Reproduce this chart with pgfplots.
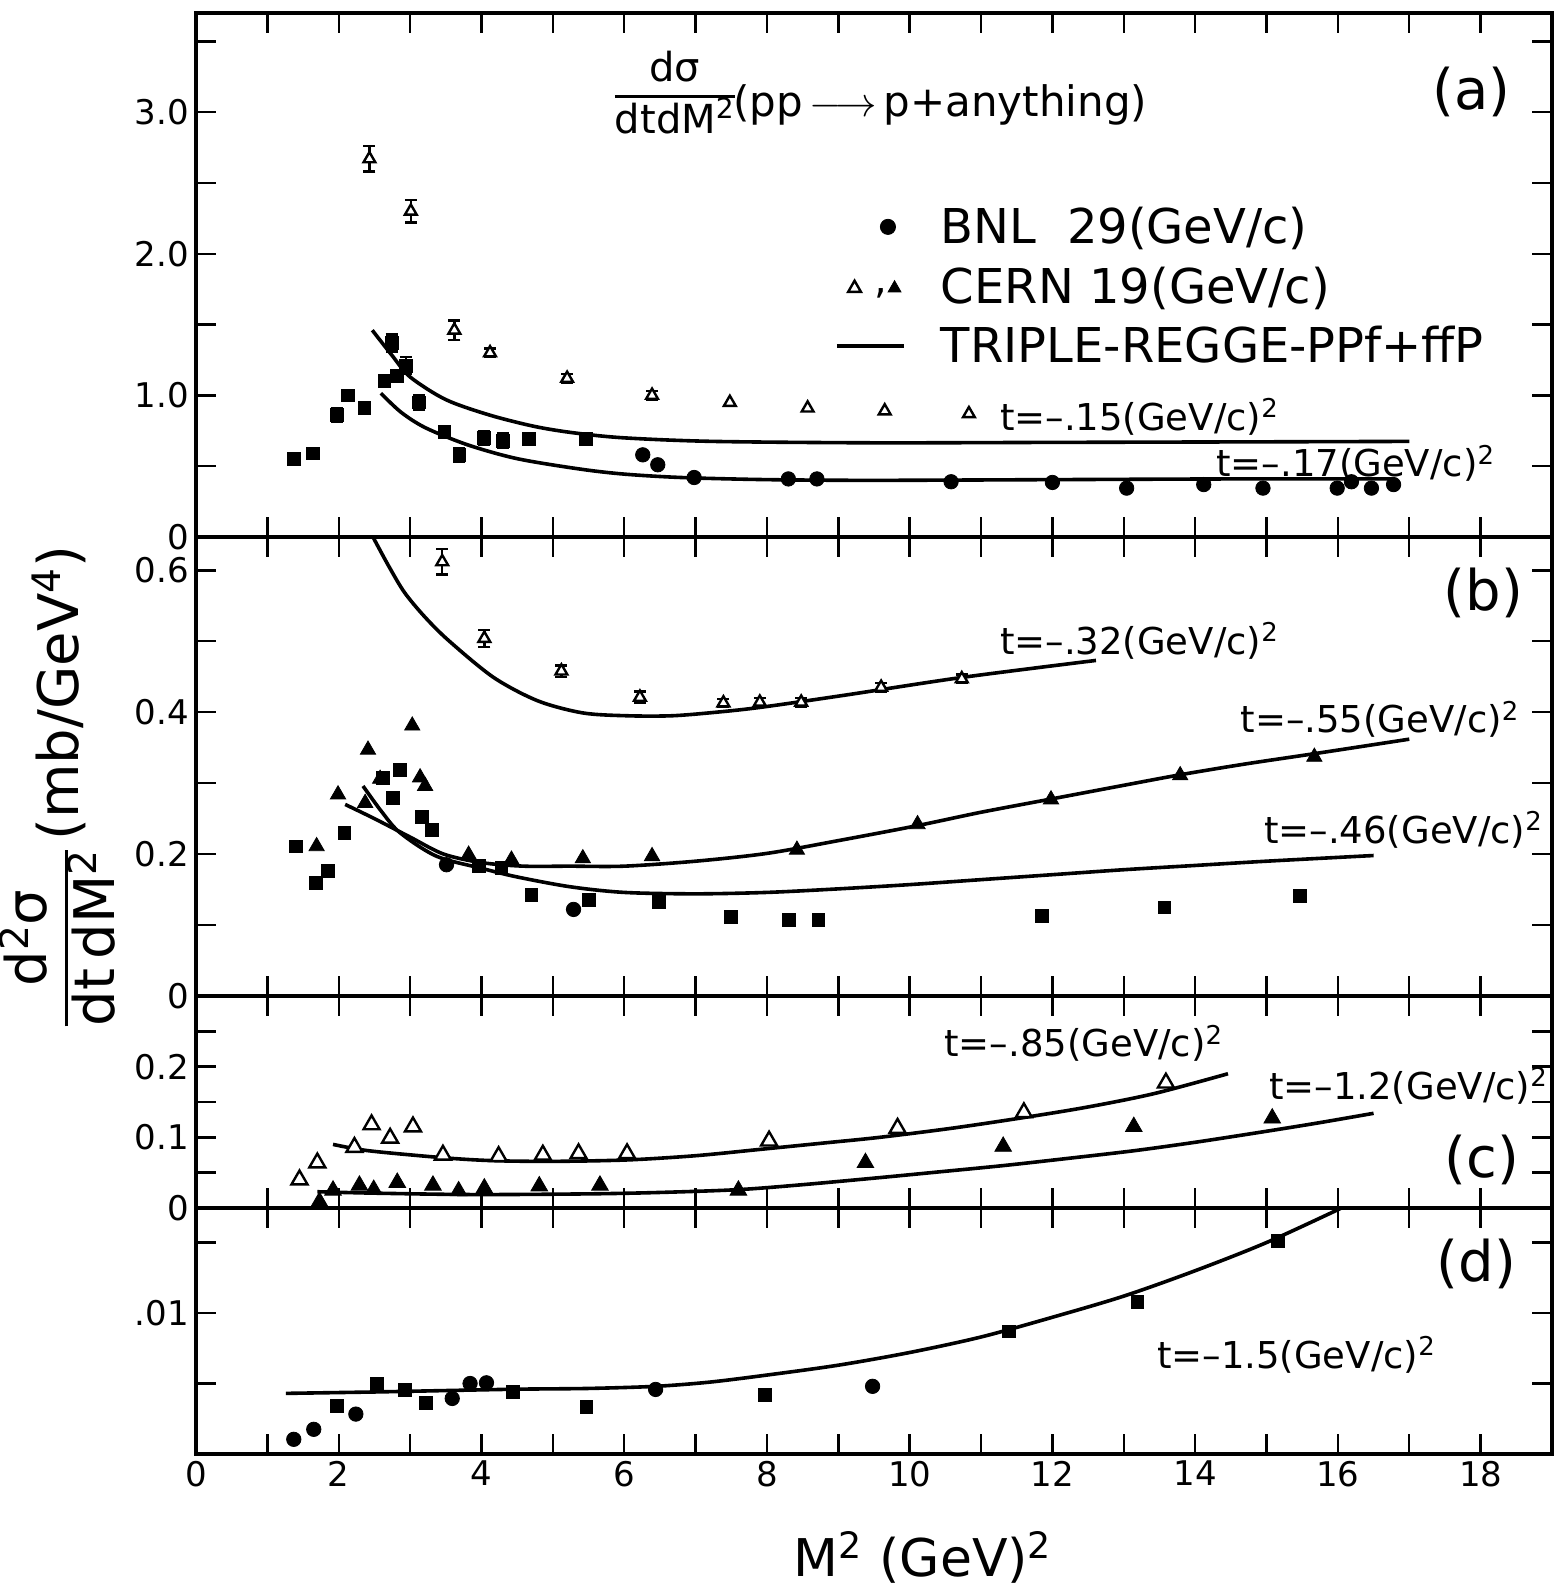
\documentclass[border=0pt]{standalone}
\usepackage{fontspec}
\setmainfont{DejaVu Sans}
\usepackage{pgfplots}
\pgfplotsset{compat=1.18}
\setlength{\arrayrulewidth}{1.5pt}
\newcommand{\fr}[2]{\begin{tabular}[c]{@{}c@{}}#1\\\hline #2\end{tabular}}

\tikzset{
  tlab/.style={font=\fontsize{18.5}{20}\selectfont, anchor=west, inner sep=0pt},
  plab/.style={font=\fontsize{28}{30}\selectfont, inner sep=0pt},
}
\pgfplotsset{
  panel/.style={
    scale only axis, width=678pt, xmin=0, xmax=19,
    xtick={1,...,18}, xticklabels={},
    tick align=inside, major tick length=10pt,
    xtick pos=both, ytick pos=both,
    every tick/.style={black, line width=1.2pt},
    axis line style={line width=2.2pt},
    tick label style={font=\fontsize{17}{17}\selectfont},
    /pgf/number format/assume math mode=true,
    scaled y ticks=false,
  },
  theory/.style={black, line width=1.8pt, smooth, no marks},
  opentri/.style={only marks, mark=triangle*, mark size=3.4pt, mark options={fill=white, draw=black, line width=1.2pt}},
  fulltri/.style={only marks, mark=triangle*, mark size=4.4pt, mark options={fill=black, draw=black}},
  bnl/.style={only marks, mark=*, mark size=3.6pt, mark options={fill=black, draw=black}},
  bnlsq/.style={only marks, mark=square*, mark size=3.2pt, mark options={fill=black, draw=black}},
  errs/.style={error bars/.cd, y dir=both, y explicit,
    error bar style={line width=1.2pt, black},
    error mark options={rotate=90, mark size=3pt, line width=1.2pt, black}},
}

\begin{document}
\begin{tikzpicture}
\useasboundingbox (0pt,0pt) rectangle (783pt,795.5pt);

% ---------------- panel (a)
\begin{axis}[panel, at={(98pt,527pt)}, anchor=south west, height=262pt,
  ymin=0, ymax=3.70, ytick={0,0.5,1,1.5,2,2.5,3,3.5},
  yticklabels={0,,1.0,,2.0,,3.0,},
  legend style={at={(axis cs:8.95,2.36)}, anchor=north west, draw=none, fill=none,
    font=\fontsize{24}{26}\selectfont, inner sep=0pt, row sep=6pt},
  legend cell align=left]
\addlegendimage{legend image code/.code={
  \path[draw=none] (0pt,0pt) -- (50pt,0pt);
  \fill[black] (25.5pt,0pt) circle (3.8pt);}}
\addlegendentry{BNL\ \ 29(GeV/c)}
\addlegendimage{legend image code/.code={
  \path[draw=none] (0pt,0pt) -- (50pt,0pt);
  \draw[line width=1.2pt] (5.6pt,-2.8pt) -- (12pt,-2.8pt) -- (8.8pt,2.8pt) -- cycle;
  \node[inner sep=0pt, font=\fontsize{20}{20}\selectfont] at (18.5pt,-3pt) {,};
  \fill[black] (25.6pt,-2.8pt) -- (32pt,-2.8pt) -- (28.8pt,2.8pt) -- cycle;}}
\addlegendentry{CERN 19(GeV/c)}
\addlegendimage{legend image code/.code={
  \path[draw=none] (0pt,0pt) -- (50pt,0pt);
  \draw[line width=1.8pt] (0pt,0pt) -- (33.5pt,0pt);}}
\addlegendentry{TRIPLE-REGGE-PPf+ffP}

\addplot[theory] coordinates {(2.47,1.46) (2.75,1.28) (3.0,1.13) (3.5,0.97) (4.12,0.86)
  (4.75,0.78) (5.3,0.735) (6,0.70) (7.25,0.675) (9.5,0.665) (12,0.668) (15,0.672) (17,0.675)};
\addplot[theory] coordinates {(2.59,1.015) (2.875,0.88) (3.22,0.77) (3.81,0.65) (4.5,0.553)
  (5.375,0.48) (6,0.444) (6.8,0.42) (8,0.405) (9.5,0.40) (12,0.405) (14.5,0.41) (16.8,0.41)};

\addplot[opentri, errs] coordinates {
  (2.43,2.67) +- (0,0.09) (3.01,2.30) +- (0,0.08) (3.62,1.46) +- (0,0.07)
  (4.12,1.30) +- (0,0.03) (5.20,1.12) +- (0,0.03) (6.39,1.00) +- (0,0.03)};
\addplot[opentri] coordinates {(7.48,0.95) (8.57,0.91) (9.65,0.89) (10.83,0.87)};
\addplot[bnlsq, errs] coordinates {
  (1.375,0.55) +- (0,0.04) (1.64,0.59) +- (0,0.04) (1.97,0.86) +- (0,0.05)
  (2.125,1.00) +- (0,0.04) (2.36,0.91) +- (0,0.04) (2.64,1.10) +- (0,0.04)
  (2.74,1.37) +- (0,0.06) (2.81,1.14) +- (0,0.04) (2.94,1.21) +- (0,0.06)
  (3.125,0.95) +- (0,0.05) (3.48,0.74) +- (0,0.04) (3.69,0.58) +- (0,0.05)
  (4.03,0.70) +- (0,0.05) (4.3,0.68) +- (0,0.05) (4.67,0.69) +- (0,0.04)
  (5.46,0.69) +- (0,0.04)};
\addplot[bnl] coordinates {(6.26,0.58) (6.47,0.51) (6.98,0.42) (8.3,0.41) (8.7,0.41)
  (10.58,0.39) (12.0,0.385) (13.04,0.345) (14.12,0.37) (14.95,0.345) (15.99,0.345)
  (16.19,0.39) (16.47,0.345) (16.78,0.37)};

\node[font=\fontsize{20}{22}\selectfont, inner sep=0pt] at (axis cs:6.71,3.095)
  {\fr{dσ}{dtdM\textsuperscript{2}}};
\node[font=\fontsize{21}{22}\selectfont, anchor=west, inner sep=0pt] at (axis cs:7.52,3.05)
  {(pp\,$\longrightarrow$\,p+anything)};
\node[plab] at (axis cs:17.87,3.145) {(a)};
\node[tlab] at (axis cs:11.26,0.85) {t=–.15(GeV/c)\textsuperscript{2}};
\node[tlab] at (axis cs:14.29,0.52) {t=–.17(GeV/c)\textsuperscript{2}};
\end{axis}

% ---------------- panel (b)
\begin{axis}[panel, at={(98pt,297.5pt)}, anchor=south west, height=229.5pt,
  ymin=0, ymax=0.647, ytick={0,0.1,0.2,0.3,0.4,0.5,0.6},
  yticklabels={0,,0.2,,0.4,,0.6}]
\addplot[theory] coordinates {(2.49,0.645) (2.7,0.606) (2.92,0.569) (3.2,0.535) (3.54,0.501)
  (4.17,0.449) (4.79,0.416) (5.42,0.399) (6.04,0.395) (6.67,0.395) (7.29,0.40) (7.92,0.407)
  (9.09,0.424) (10.73,0.449) (12.61,0.473)};
\addplot[theory] coordinates {(2.09,0.27) (2.5,0.25) (3.0,0.224) (3.47,0.200) (4.0,0.188)
  (4.59,0.183) (5.24,0.183) (6,0.183) (7,0.19) (8,0.201) (9,0.219) (10.1,0.240) (11,0.259)
  (12,0.278) (13,0.297) (13.8,0.312) (14.7,0.327) (15.7,0.342) (17.0,0.362)};
\addplot[theory] coordinates {(2.34,0.296) (2.6,0.26) (2.86,0.23) (3.37,0.197) (4.0,0.18)
  (4.49,0.168) (5.24,0.154) (6,0.146) (7,0.144) (8,0.146) (9,0.151) (10,0.157) (11,0.164)
  (12,0.171) (13,0.178) (14,0.184) (15,0.19) (16.5,0.198)};

\addplot[opentri, errs] coordinates {
  (3.45,0.612) +- (0,0.018) (4.04,0.504) +- (0,0.012) (5.12,0.458) +- (0,0.008)
  (6.22,0.421) +- (0,0.008) (7.39,0.413) +- (0,0.006) (7.9,0.414) +- (0,0.006)
  (8.48,0.414) +- (0,0.006) (9.6,0.435) +- (0,0.006) (10.73,0.447) +- (0,0.006)};
\addplot[fulltri] coordinates {(1.69,0.211) (1.99,0.284) (2.37,0.272) (2.41,0.347) (2.58,0.306)
  (3.03,0.381) (3.14,0.308) (3.21,0.296) (3.82,0.199) (4.42,0.192) (5.42,0.194) (6.39,0.197)
  (8.42,0.206) (10.11,0.242) (11.98,0.277) (13.79,0.311) (15.67,0.337)};
\addplot[bnlsq] coordinates {(1.40,0.211) (1.68,0.159) (1.85,0.176) (2.08,0.23) (2.62,0.307)
  (2.86,0.319) (2.76,0.279) (3.16,0.253) (3.30,0.234) (3.96,0.183) (4.28,0.18) (4.70,0.143)
  (5.51,0.135) (6.49,0.133) (7.49,0.111) (8.31,0.107) (8.72,0.107) (11.85,0.113)
  (13.57,0.125) (15.47,0.141)};
\addplot[bnl] coordinates {(3.51,0.185) (5.29,0.122)};

\node[plab] at (axis cs:18.04,0.568) {(b)};
\node[tlab] at (axis cs:11.26,0.501) {t=–.32(GeV/c)\textsuperscript{2}};
\node[tlab] at (axis cs:14.63,0.39) {t=–.55(GeV/c)\textsuperscript{2}};
\node[tlab] at (axis cs:14.96,0.234) {t=–.46(GeV/c)\textsuperscript{2}};
\end{axis}

% ---------------- panel (c)
\begin{axis}[panel, at={(98pt,191.5pt)}, anchor=south west, height=106pt,
  ymin=0, ymax=0.30, ytick={0,0.05,0.1,0.15,0.2,0.25},
  yticklabels={0,,0.1,,0.2,}]
\addplot[theory] coordinates {(1.92,0.09) (2.42,0.081) (3.48,0.071) (4.16,0.067) (5.0,0.066)
  (6.04,0.068) (7.0,0.074) (7.91,0.083) (8.8,0.092) (9.58,0.1) (10.6,0.113) (11.6,0.128)
  (12.5,0.143) (13.43,0.162) (14.46,0.19)};
\addplot[theory] coordinates {(1.7,0.023) (2.5,0.021) (3.9,0.019) (5.5,0.02) (6.5,0.022)
  (7.6,0.026) (8.5,0.033) (9.58,0.043) (10.4,0.051) (11.31,0.06) (12.2,0.07) (13.14,0.081)
  (14.0,0.093) (14.9,0.107) (15.7,0.12) (16.5,0.134)};
\addplot[opentri, mark size=4.6pt] coordinates {(1.45,0.040) (1.70,0.064) (2.22,0.086)
  (2.46,0.118) (2.72,0.099) (3.04,0.115) (3.46,0.075) (4.24,0.073) (4.86,0.075) (5.36,0.077)
  (6.04,0.077) (8.03,0.095) (9.83,0.113) (11.6,0.135) (13.59,0.177)};
\addplot[fulltri, mark size=4.8pt] coordinates {(1.73,0.009) (1.92,0.025) (2.29,0.032)
  (2.49,0.026) (2.82,0.036) (3.32,0.032) (3.68,0.024) (4.04,0.028) (4.81,0.031) (5.66,0.032)
  (7.6,0.025) (9.38,0.064) (11.31,0.087) (13.14,0.115) (15.08,0.127)};
\node[plab] at (axis cs:18.02,0.068) {(c)};
\node[tlab] at (axis cs:10.48,0.233) {t=–.85(GeV/c)\textsuperscript{2}};
\node[tlab] at (axis cs:15.03,0.173) {t=–1.2(GeV/c)\textsuperscript{2}};
\end{axis}

% ---------------- panel (d)
\begin{axis}[panel, at={(98pt,68.5pt)}, anchor=south west, height=123pt,
  ymin=0, ymax=0.01745, ytick={0.005,0.01,0.015}, yticklabels={,.01,},
  xtick={0,...,18}, xticklabels={0,,2,,4,,6,,8,,10,,12,,14,,16,,18}]
\addplot[theory] coordinates {(1.26,0.0043) (2.5,0.0044) (3.5,0.0045) (4.54,0.0046)
  (5.5,0.00465) (6.44,0.0048) (7.2,0.0051) (8,0.0056) (9,0.0063) (10,0.0072)
  (11,0.0083) (12,0.0097) (13,0.0112) (14,0.0130) (15,0.0150) (16.05,0.01745)};
\addplot[bnl] coordinates {(1.37,0.00104) (1.65,0.00175) (2.24,0.00283) (3.59,0.00394)
  (3.84,0.0050) (4.07,0.00505) (6.44,0.00458) (9.48,0.0048)};
\addplot[bnlsq, errs] coordinates {(1.97,0.0034) +- (0,0.0003) (2.53,0.0050) +- (0,0.0003)
  (2.93,0.00453) +- (0,0.0002) (3.22,0.00363) +- (0,0.0003) (4.44,0.00441) +- (0,0.0002)
  (5.47,0.00335) +- (0,0.0003) (7.97,0.00417) +- (0,0.0002) (11.39,0.0087) +- (0,0.0003)
  (13.19,0.0108) +- (0,0.0004) (15.16,0.0151) +- (0,0.0002)};
\node[plab] at (axis cs:17.94,0.0135) {(d)};
\node[tlab] at (axis cs:13.46,0.00703) {t=–1.5(GeV/c)\textsuperscript{2}};
\end{axis}

\node[rotate=90, font=\fontsize{28}{30}\selectfont] at (33pt,402.5pt)
  {\fr{d\textsuperscript{2}σ}{dt\,dM\textsuperscript{2}}\,(mb/GeV\textsuperscript{4})};
\node[font=\fontsize{26}{28}\selectfont] at (461.5pt,17pt) {M\textsuperscript{2} (GeV)\textsuperscript{2}};
\end{tikzpicture}
\end{document}
